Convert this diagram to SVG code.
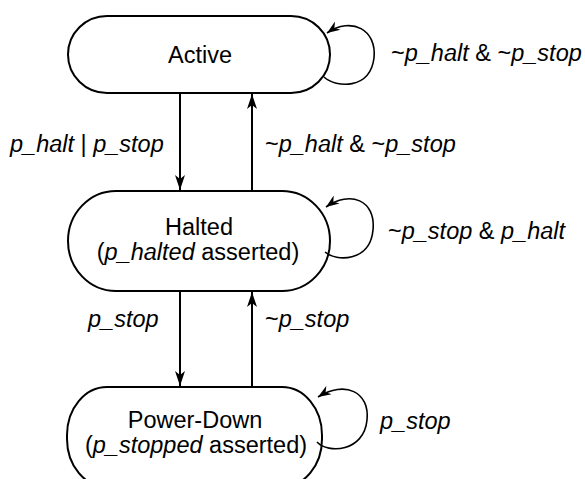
<svg xmlns="http://www.w3.org/2000/svg" width="585" height="479" viewBox="0 0 585 479">
<style>
.node{fill:#fff;stroke:#000;stroke-width:2}
.edge{fill:none;stroke:#000;stroke-width:2}
.loop{fill:none;stroke:#000;stroke-width:1.6}
text{font-family:"Liberation Sans",Arial,sans-serif;font-size:23.5px;fill:#000}
.c{text-anchor:middle}
.i{font-style:italic}
</style>
<defs>
<marker id="ah" viewBox="-16 -6 17 12" refX="0" refY="0" markerWidth="17" markerHeight="12" markerUnits="userSpaceOnUse" orient="auto">
<path d="M0,0 L-15,-5 L-11,0 L-15,5 Z" fill="#000"/>
</marker>
<marker id="ahs" viewBox="-14 -5 15 10" refX="0" refY="0" markerWidth="15" markerHeight="10" markerUnits="userSpaceOnUse" orient="auto">
<path d="M0,0 L-13,-5 L-9,0 L-13,5 Z" fill="#000"/>
</marker>
</defs>
<g id="active">
<rect class="node" x="68" y="16" width="262" height="77" rx="39" ry="38.5"/>
<text class="c" x="200" y="63">Active</text>
</g>
<g id="halted">
<rect class="node" x="68" y="191" width="262" height="100" rx="48" ry="50"/>
<text class="c" x="199" y="235">Halted</text>
<text class="c" x="198" y="260">(<tspan class="i">p_halted</tspan> asserted)</text>
</g>
<g id="powerdown">
<rect class="node" x="67" y="387" width="255" height="100" rx="40" ry="48"/>
<text class="c" x="195" y="428">Power-Down</text>
<text class="c" x="196" y="453">(<tspan class="i">p_stopped</tspan> asserted)</text>
</g>
<g id="connectors">
<line class="edge" x1="180" y1="93" x2="180" y2="190" marker-end="url(#ah)"/>
<line class="edge" x1="252" y1="191" x2="252" y2="94" marker-end="url(#ah)"/>
<line class="edge" x1="180" y1="291" x2="180" y2="386" marker-end="url(#ah)"/>
<line class="edge" x1="252" y1="387" x2="252" y2="292" marker-end="url(#ah)"/>
<path class="loop" d="M324,77 C336,88 370,90 374,58 C377,30 352,16 327,33" marker-end="url(#ahs)"/>
<path class="loop" d="M325,252 C336,262 370,262 373,230 C376,200 350,190 326,207" marker-end="url(#ahs)"/>
<path class="loop" d="M317,442 C328,454 364,452 367,420 C370,392 345,380 318,397" marker-end="url(#ahs)"/>
</g>
<g id="labels">
<text x="10" y="152"><tspan class="i">p_halt</tspan> | <tspan class="i">p_stop</tspan></text>
<text x="265" y="152">~<tspan class="i">p_halt</tspan> &amp; ~<tspan class="i">p_stop</tspan></text>
<text x="391" y="61">~<tspan class="i">p_halt</tspan> &amp; ~<tspan class="i">p_stop</tspan></text>
<text x="388" y="239">~<tspan class="i">p_stop</tspan> &amp; <tspan class="i">p_halt</tspan></text>
<text x="88" y="327"><tspan class="i">p_stop</tspan></text>
<text x="265" y="327">~<tspan class="i">p_stop</tspan></text>
<text x="380" y="429"><tspan class="i">p_stop</tspan></text>
</g>
</svg>
